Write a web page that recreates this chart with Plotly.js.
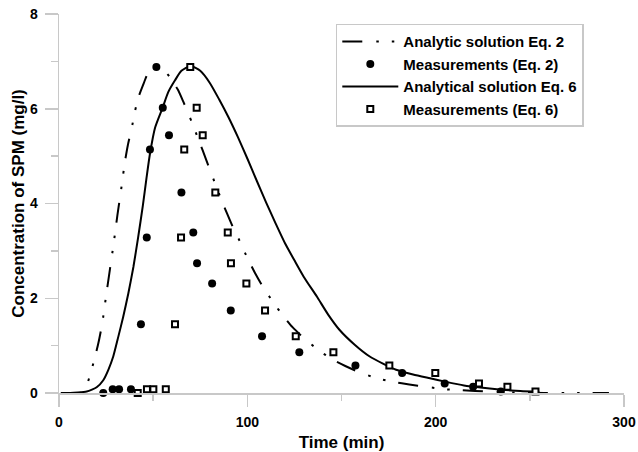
<!DOCTYPE html>
<html>
<head>
<meta charset="utf-8">
<script src="https://cdn.plot.ly/plotly-3.0.1.min.js"></script>
<style>html,body{margin:0;padding:0;background:#fff;}#chart{width:638px;height:452px;}</style>
</head>
<body>
<div id="chart"></div>
<script>
// Analytic solution Eq. 2 (dash-dot-dot curve)
const eq2TimeCurve = [1, 6, 10, 11.5, 13, 14.7, 17, 19, 21, 23, 25, 27, 29, 31, 33, 35, 36.5, 38.9, 40.4, 42.6, 45.3, 47, 49, 51, 53, 55, 58.6, 63, 66, 70.5, 73.4, 76.3, 79.2, 83, 86, 89.1, 92.6, 97, 100, 104, 108, 114, 119, 124, 130, 138, 145, 152, 160, 169, 178, 186, 195, 205, 213, 229, 238, 250, 265, 292];
const eq2ConcCurve = [0, 0, 0, 0.01, 0.06, 0.16, 0.45, 0.74, 1.07, 1.48, 2.05, 2.6, 3.15, 3.75, 4.3, 4.88, 5.22, 5.65, 5.96, 6.29, 6.57, 6.74, 6.85, 6.9, 6.91, 6.85, 6.68, 6.41, 6.15, 5.72, 5.42, 5.12, 4.81, 4.41, 4.1, 3.8, 3.48, 3.12, 2.85, 2.54, 2.26, 1.9, 1.63, 1.39, 1.16, 0.9, 0.71, 0.57, 0.43, 0.31, 0.23, 0.18, 0.13, 0.08, 0.06, 0.03, 0.015, 0.005, 0, 0];

// Measurements (Eq. 2)
const eq2TimeMeas = [23.5, 28.5, 31.9, 38.2, 43.5, 46.6, 48.3, 51.7, 55.1, 58.4, 65.0, 71.3, 73.3, 81.3, 91.2, 107.8, 127.6, 157.4, 182.2, 204.8, 219.9, 234.6];
const eq2ConcMeas = [0, 0.08, 0.08, 0.08, 1.45, 3.28, 5.14, 6.88, 6.02, 5.44, 4.23, 3.39, 2.74, 2.31, 1.74, 1.20, 0.86, 0.58, 0.42, 0.20, 0.13, 0.03];

// Analytical solution Eq. 6 (solid curve)
const eq6TimeCurve = [1, 6, 10, 14.7, 17.5, 20, 23.5, 26.2, 28.8, 31.5, 34.1, 36.8, 39.5, 42, 44.5, 46.5, 48.3, 51, 55, 58, 61.6, 65, 70, 75, 80, 85, 90, 95, 100, 105, 110, 115, 120, 125, 130, 137, 143, 149, 157, 165, 172, 179, 188, 197, 205, 215, 225, 235, 245, 255];
const eq6ConcCurve = [0, 0, 0.01, 0.03, 0.07, 0.12, 0.27, 0.49, 0.77, 1.19, 1.61, 2.1, 2.66, 3.28, 3.95, 4.55, 5.05, 5.6, 6.02, 6.35, 6.6, 6.8, 6.9, 6.8, 6.55, 6.2, 5.82, 5.4, 4.95, 4.48, 4.02, 3.58, 3.16, 2.8, 2.45, 2.03, 1.65, 1.33, 1.02, 0.77, 0.62, 0.49, 0.39, 0.31, 0.24, 0.16, 0.11, 0.07, 0.04, 0.02];

// Measurements (Eq. 6)
const eq6TimeMeas = [41.8, 46.7, 50.1, 56.7, 61.6, 64.8, 66.5, 69.7, 73.1, 76.3, 83.0, 89.6, 91.3, 99.5, 109.4, 125.7, 145.7, 175.4, 199.8, 223.0, 238.1, 253.0];
const eq6ConcMeas = [0, 0.08, 0.08, 0.08, 1.45, 3.28, 5.14, 6.88, 6.02, 5.44, 4.23, 3.39, 2.74, 2.31, 1.74, 1.20, 0.86, 0.58, 0.42, 0.20, 0.13, 0.03];

const legendNames = ['Analytic solution Eq. 2', 'Measurements (Eq. 2)', 'Analytical solution Eq. 6', 'Measurements (Eq. 6)'];
const xTickVals = [0, 100, 200, 300];
const yTickVals = [0, 2, 4, 6, 8];

const FONT = 'Liberation Sans, Arial, sans-serif';
const axisGray = '#c8c8c8';

const traces = [
  {
    x: eq2TimeCurve, y: eq2ConcCurve, type: 'scatter', mode: 'lines',
    name: legendNames[0], legendrank: 1,
    line: {color: '#000', width: 2, dash: '20px,14px,2.5px,13px,2.5px,13px', shape: 'spline', smoothing: 0.6}
  },
  {
    x: eq6TimeCurve, y: eq6ConcCurve, type: 'scatter', mode: 'lines',
    name: legendNames[2], legendrank: 3,
    line: {color: '#000', width: 2, shape: 'spline', smoothing: 0.6}
  },
  {
    x: eq2TimeMeas, y: eq2ConcMeas, type: 'scatter', mode: 'markers',
    name: legendNames[1], legendrank: 2, cliponaxis: false,
    marker: {symbol: 'circle', size: 8, color: '#000'}
  },
  {
    x: eq6TimeMeas, y: eq6ConcMeas, type: 'scatter', mode: 'markers',
    name: legendNames[3], legendrank: 4, cliponaxis: false,
    marker: {symbol: 'square', size: 6, color: '#fff', line: {color: '#000', width: 2}}
  }
];

const layout = {
  width: 638, height: 452,
  margin: {l: 59, r: 14, t: 14, b: 59},
  paper_bgcolor: '#fff', plot_bgcolor: '#fff',
  font: {family: FONT, color: '#000', size: 14, weight: 'bold'},
  showlegend: true,
  legend: {
    x: 0.4899, y: 0.974, xanchor: 'left', yanchor: 'top',
    bgcolor: '#fff', bordercolor: axisGray, borderwidth: 1.5,
    font: {family: FONT, size: 15, weight: 'bold', color: '#000'},
    itemwidth: 56, tracegroupgap: 0
  },
  xaxis: {
    range: [0, 300], showgrid: false, zeroline: false,
    showline: true, linecolor: axisGray, linewidth: 1.5,
    ticks: 'outside', ticklen: 12, tickwidth: 1.5, tickcolor: axisGray,
    tickvals: xTickVals, ticktext: xTickVals.map(String),
    ticklabelstandoff: 4,
    minor: {dtick: 50, tick0: 0, ticks: 'outside', ticklen: 6, tickwidth: 1.5, tickcolor: axisGray, showgrid: false},
    tickfont: {family: FONT, size: 14, weight: 'bold', color: '#000'},
    title: {text: 'Time (min)', standoff: 12, font: {family: FONT, size: 17, weight: 'bold', color: '#000'}}
  },
  yaxis: {
    range: [0, 8], showgrid: false, zeroline: false,
    showline: true, linecolor: axisGray, linewidth: 1.5,
    ticks: 'outside', ticklen: 13, tickwidth: 1.5, tickcolor: axisGray,
    tickvals: yTickVals, ticktext: yTickVals.map(String),
    ticklabelstandoff: 4,
    minor: {dtick: 1, tick0: 0, ticks: 'outside', ticklen: 7, tickwidth: 1.5, tickcolor: axisGray, showgrid: false},
    tickfont: {family: FONT, size: 14, weight: 'bold', color: '#000'},
    title: {text: 'Concentration of SPM (mg/l)', standoff: 1, font: {family: FONT, size: 17, weight: 'bold', color: '#000'}}
  }
};

Plotly.newPlot('chart', traces, layout, {displayModeBar: false, staticPlot: true});
</script>
</body>
</html>
